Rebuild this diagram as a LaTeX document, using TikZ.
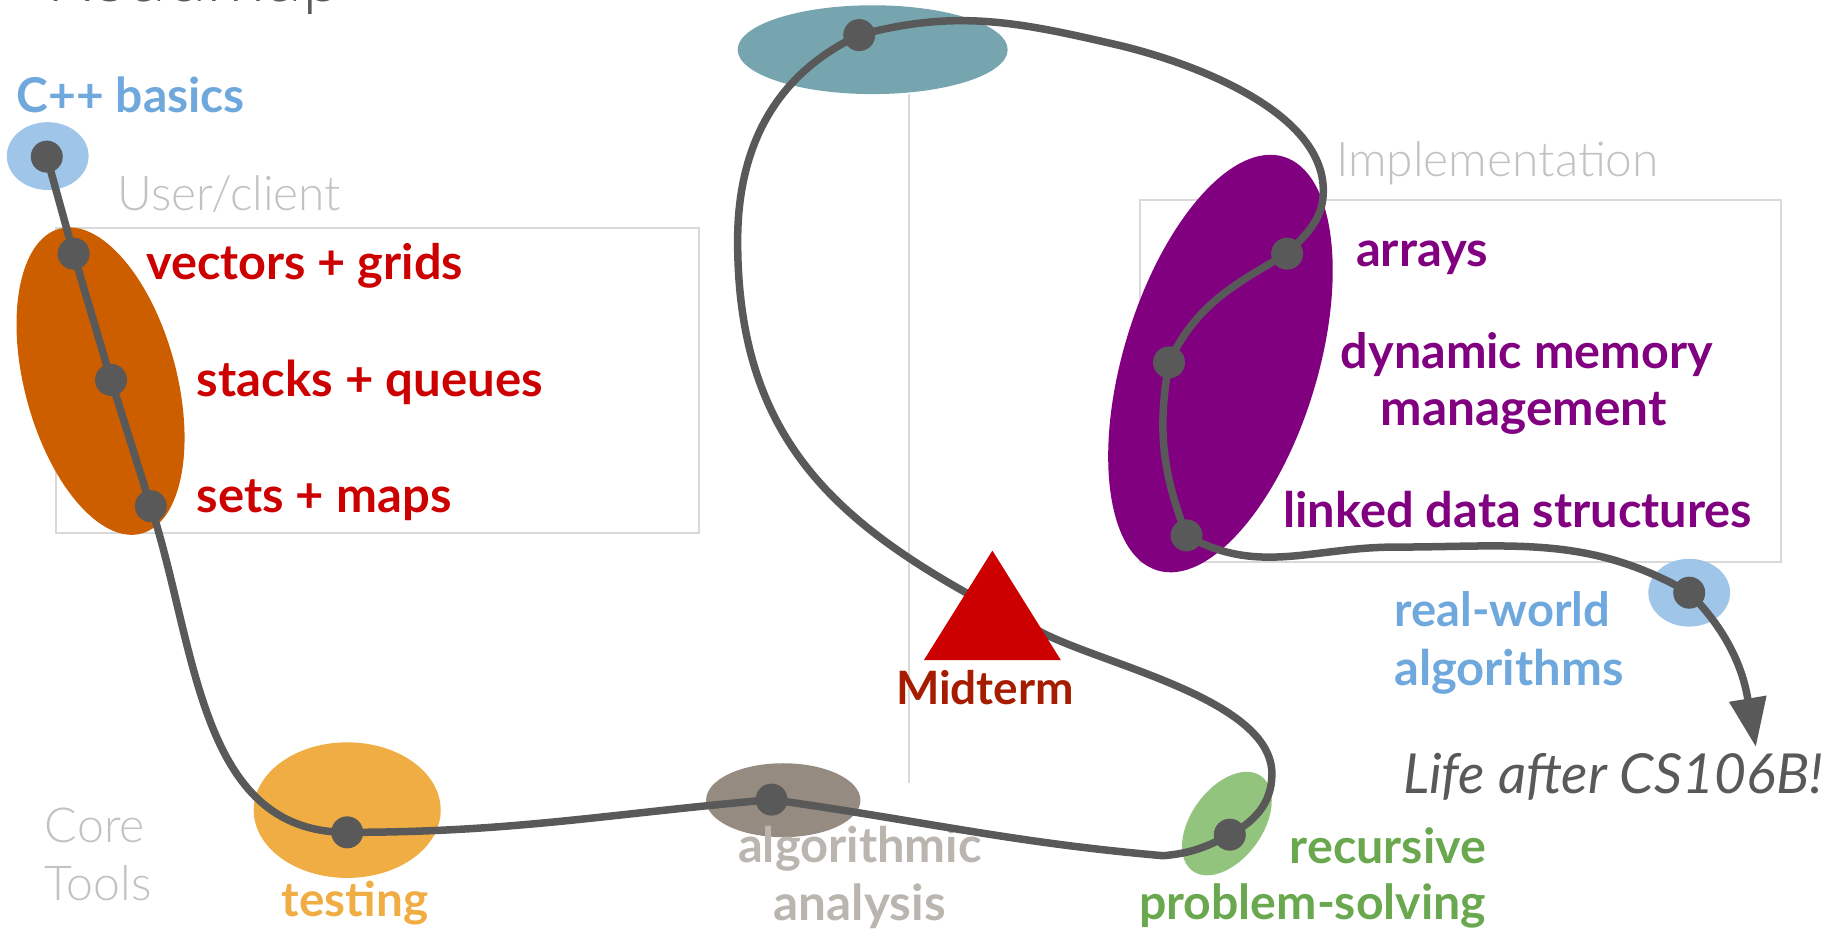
\documentclass[tikz,border=0pt]{standalone}
\usepackage{fontspec}
\setmainfont{Lato}
\newfontfamily\lightfont{Lato Light}
\usetikzlibrary{shapes.geometric,arrows.meta}

\definecolor{road}{HTML}{595959}
\definecolor{skyfill}{HTML}{9FC5E8}
\definecolor{skytext}{HTML}{6FA8DC}
\definecolor{adtred}{HTML}{CC0000}
\definecolor{adtorange}{HTML}{CC5E00}
\definecolor{implpurple}{HTML}{800080}
\definecolor{tealfill}{HTML}{76A5AF}
\definecolor{testorange}{HTML}{F0AD43}
\definecolor{bigofill}{HTML}{958B80}
\definecolor{bigotext}{HTML}{BAB5AF}
\definecolor{recfill}{HTML}{93C47D}
\definecolor{rectext}{HTML}{6AA84F}
\definecolor{midred}{HTML}{A61C00}
\definecolor{softgray}{HTML}{C2C2C2}
\definecolor{framegray}{HTML}{D9D9D9}

% set #2 at the size that makes it #1 pt wide
\newlength\fitlen
\newcommand\fitto[2]{%
  \settowidth\fitlen{\fontsize{10}{12}\selectfont #2}%
  \pgfmathsetmacro\fitsz{10*#1/\fitlen}%
  \fontsize{\fitsz}{\fitsz}\selectfont #2}

\begin{document}
\begin{tikzpicture}[x=1.169pt,y=1.169pt,
  blob/.style={ellipse,inner sep=0pt,outer sep=0pt},
  dot/.style={circle,fill=road,inner sep=0pt,minimum size=32pt},
  lbl/.style={inner sep=0pt,anchor=base,font=\bfseries},
  note/.style={inner sep=0pt,anchor=base,font=\lightfont,text=softgray},
  frame/.style={draw=framegray,line width=2pt},
  roadline/.style={draw=road,line width=7.5pt,line cap=round,line join=round}]

\useasboundingbox (0,0) rectangle (1568,-802);
\clip (0,0) rectangle (1568,-802);

% title, mostly above the page
\node[inner sep=0pt,anchor=base,font=\lightfont,text=road] (title) at (166.6,-1.2) {\fitto{296}{Roadmap}};

% divider and group frames
\draw[draw=framegray,line width=2pt] (777.6,-80) -- (777.6,-670);
\draw[frame] (48,-195) rectangle (598,-456);
\draw[frame] (975,-171) rectangle (1523.5,-480.5);

% topic blobs
\node[blob,fill=skyfill,minimum width=81.8pt,minimum height=67.8pt] (cppE) at (40.8,-133.5) {};
\node[blob,fill=adtorange,minimum width=152pt,minimum height=315.6pt,rotate=15] (adtE) at (86,-326) {};
\node[blob,fill=implpurple,minimum width=194pt,minimum height=432.5pt,rotate=-17] (implE) at (1044,-311) {};
\node[blob,fill=tealfill,minimum width=270pt,minimum height=88.8pt] (topE) at (746.5,-42.5) {};
\node[blob,fill=testorange,minimum width=187pt,minimum height=135.6pt] (testE) at (297,-693) {};
\node[blob,fill=bigofill,minimum width=154.3pt,minimum height=73.9pt] (bigoE) at (670,-684.5) {};
\node[blob,fill=recfill,minimum width=71.3pt,minimum height=117pt,rotate=-36] (recE) at (1049.5,-704.5) {};
\node[blob,fill=skyfill,minimum width=81.8pt,minimum height=67.8pt] (rwaE) at (1445,-507) {};

% labels
\node[lbl,text=skytext] (lcpp) at (112,-96.4) {\fitto{228}{C++ basics}};
\node[note] (luser) at (196.1,-180) {\fitto{223.5}{User/client}};
\node[lbl,text=adtred] (lvec) at (260.7,-239.5) {\fitto{316.6}{vectors + grids}};
\node[lbl,text=adtred] (lstk) at (316.5,-339.6) {\fitto{346}{stacks + queues}};
\node[lbl,text=adtred] (lset) at (277.3,-438.6) {\fitto{254.6}{sets + maps}};
\node[note] (limpl) at (1281,-150.6) {\fitto{322.7}{Implementation}};
\node[lbl,text=implpurple] (larr) at (1216.5,-228) {\fitto{132}{arrays}};
\node[lbl,text=implpurple] (ldyn1) at (1306,-315) {\fitto{371.6}{dynamic memory}};
\node[lbl,text=implpurple] (ldyn2) at (1303.4,-364.4) {\fitto{286}{management}};
\node[lbl,text=implpurple] (llnk) at (1298.3,-451) {\fitto{469}{linked data structures}};
\node[lbl,text=skytext] (lrwa1) at (1285.2,-536) {\fitto{215.6}{real-world}};
\node[lbl,text=skytext] (lrwa2) at (1290.7,-586) {\fitto{229.4}{algorithms}};
\node[lbl,text=bigotext] (lbigo1) at (735.6,-738) {\fitto{243.7}{algorithmic}};
\node[lbl,text=bigotext] (lbigo2) at (735.5,-787) {\fitto{172}{analysis}};
\node[note] (lcore1) at (81.2,-720.8) {\fitto{100}{Core}};
\node[note] (lcore2) at (84.1,-770) {\fitto{106.7}{Tools}};
\node[lbl,text=testorange] (ltest) at (303.7,-783.6) {\fitto{146.6}{testing}};
\node[lbl,text=rectext] (lrec1) at (1187.2,-739) {\fitto{196}{recursive}};
\node[lbl,text=rectext] (lrec2) at (1122.8,-786.4) {\fitto{347}{problem-solving}};
\node[inner sep=0pt,anchor=base,font=\itshape,text=road] (llife) at (1379.8,-678.6) {\fitto{420}{Life after CS106B!}};

% stops along the road
\node[dot] (cpp) at (40,-134) {};
\node[dot] (vec) at (63,-217) {};
\node[dot] (stk) at (95,-325) {};
\node[dot] (set) at (129,-433) {};
\node[dot] (tst) at (297,-712) {};
\node[dot] (alg) at (660,-684) {};
\node[dot] (rec) at (1052,-714) {};
\node[dot] (top) at (735,-30) {};
\node[dot] (arr) at (1101,-217) {};
\node[dot] (dyn) at (1000,-310) {};
\node[dot] (lnk) at (1015,-458) {};
\node[dot] (rwa) at (1445,-507) {};

% bends of the road
\coordinate (low) at (995,-732);
\coordinate (w1) at (1088,-662);
\coordinate (w2) at (893,-542);
\coordinate (w3) at (631,-206);
\coordinate (w4) at (954,-38);
\coordinate (w5) at (1132,-163);
\coordinate (w6) at (1193,-468);
\coordinate (life) at (1502,-639);

\draw[roadline,-{Triangle[length=49pt,width=36pt]}]
  (cpp.center) -- (vec.center) -- (stk.center) -- (set.center)
  to[out=-72,in=180] (tst.center)
  to[out=0,in=185] (alg.center)
  to[out=-8,in=175] (low)
  to[out=5,in=208] (rec.center)
  to[out=28,in=-90] (w1)
  to[out=90,in=-26.5,looseness=0.7] (w2)
  to[out=153.5,in=-90,looseness=1.1] (w3)
  to[out=90,in=205] (top.center)
  to[out=15,in=167] (w4)
  to[out=-13,in=90,looseness=0.8] (w5)
  to[out=-90,in=45] (arr.center)
  to[out=-150,in=65] (dyn.center)
  to[out=-100,in=111] (lnk.center)
  to[out=-30,in=180] (w6)
  to[out=0,in=150] (rwa.center)
  to[out=-45,in=99.5] (life);

% midterm marker
\fill[adtred] (848.9,-471) -- (907.4,-564.6) -- (790.4,-564.6) -- cycle;
\node[lbl,text=midred] (lmid) at (842.6,-602.5) {\fitto{178}{Midterm}};

\end{tikzpicture}
\end{document}
